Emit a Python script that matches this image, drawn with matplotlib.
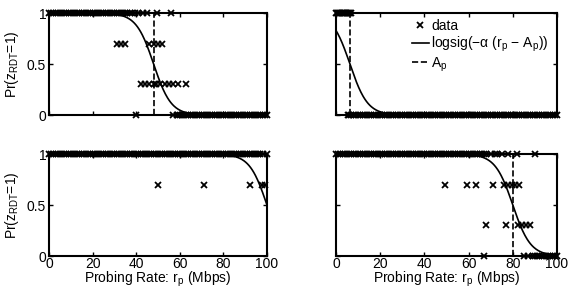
import numpy as np
import matplotlib
matplotlib.use("Agg")
import matplotlib.pyplot as plt

plt.rcParams["font.family"] = ["Liberation Sans", "DejaVu Sans"]
plt.rcParams["mathtext.fontset"] = "custom"
plt.rcParams["mathtext.rm"] = "Liberation Sans"
plt.rcParams["mathtext.it"] = "Liberation Sans"
plt.rcParams["font.size"] = 10

# probing rates (Mbps) of the observations, grouped by observed Pr value
# top-left
tl_x1 = [0, 1, 2, 3, 4, 5, 6, 7, 8, 9, 10, 11, 12, 13, 14, 15, 16, 17, 18, 19,
         20, 21, 22, 23, 24, 25, 26, 27, 28, 29, 30, 31, 32, 33, 34, 35, 36, 37,
         38, 39.5, 41, 43, 45, 49.5, 56]
tl_x07 = [31, 33, 35, 46, 48, 50, 52]
tl_x03 = [42, 44, 46, 48, 49, 51, 53, 55, 57, 59, 63]
tl_x0 = [40, 57, 58.5, 59, 60, 61, 62, 63, 64, 65, 66, 67, 68, 69, 70, 71, 72,
         73, 74, 75, 76, 77, 78, 79, 80, 81, 82, 83, 84, 85, 86, 87, 88, 89, 90,
         91, 92, 93, 94, 95, 96, 97, 98, 99, 100]
# top-right
tr_x1 = [0, 0.5, 1, 1.5, 2, 2.5, 3, 3.5, 4, 4.5, 5, 5.5, 6, 6.5, 7]
tr_x07 = []
tr_x03 = []
tr_x0 = [5.5, 6, 7, 8, 9, 10, 11, 12, 13, 14, 15, 16, 17, 18, 19, 20, 21, 22,
         23, 24, 25, 26, 27, 28, 29, 30, 31, 32, 33, 34, 35, 36, 37, 38, 39, 40,
         41, 42, 43, 44, 45, 46, 47, 48, 49, 50, 51, 52, 53, 54, 55, 56, 57, 58,
         59, 60, 61, 62, 63, 64, 65, 66, 67, 68, 69, 70, 71, 72, 73, 74, 75, 76,
         77, 78, 79, 80, 81, 82, 83, 84, 85, 86, 87, 88, 89, 90, 91, 92, 93, 94,
         95, 96, 97, 98, 99, 100]
# bottom-left
bl_x1 = [0, 1, 2, 3, 4, 5, 6, 7, 8, 9, 10, 11, 12, 13, 14, 15, 16, 17, 18, 19,
         20, 21, 22, 23, 24, 25, 26, 27, 28, 29, 30, 31, 32, 33, 34, 35, 36, 37,
         38, 39, 40, 41, 42, 43, 44, 45, 46, 47, 48, 49, 50, 51, 52, 53, 54, 55,
         56, 57, 58, 59, 60, 61, 62, 63, 64, 65, 66, 67, 68, 69, 70, 71, 72, 73,
         74, 75, 76, 77, 78, 79, 80, 81, 82, 83, 84, 85, 86, 87, 88, 89, 90, 91,
         92, 93, 94, 95, 96, 97, 98, 100]
bl_x07 = [50, 71, 92, 97.5, 99]
bl_x03 = []
bl_x0 = []
# bottom-right
br_x1 = [0, 1, 2, 3, 4, 5, 6, 7, 8, 9, 10, 11, 12, 13, 14, 15, 16, 17, 18, 19,
         20, 21, 22, 23, 24, 25, 26, 27, 28, 29, 30, 31, 32, 33, 34, 35, 36, 37,
         38, 39, 40, 41, 42, 43, 44, 45, 46, 47, 48, 49, 50, 51, 52, 53, 54, 55,
         56, 57, 58, 59, 60, 61, 62, 63, 64, 65, 66, 67, 68, 70, 72, 73, 75, 78,
         82, 90]
br_x07 = [49.5, 59.5, 63.5, 71, 76, 78, 79.5, 81, 83]
br_x03 = [68, 77, 82.5, 84, 86, 88]
br_x0 = [67, 85, 87, 89, 90, 91, 92, 93, 94, 95, 96, 97, 98, 99, 100]

# fitted logistic parameters
alpha = [0.25, 0.25, 0.25, 0.25]
a_p = [48, 6.3, 100, 80]

panels = [
    (tl_x1, tl_x07, tl_x03, tl_x0),
    (tr_x1, tr_x07, tr_x03, tr_x0),
    (bl_x1, bl_x07, bl_x03, bl_x0),
    (br_x1, br_x07, br_x03, br_x0),
]
levels = [1, 0.7, 0.3, 0]

positions = [
    [0.0843, 0.6034, 0.3752, 0.3517],
    [0.5783, 0.6034, 0.3804, 0.3517],
    [0.0843, 0.1172, 0.3752, 0.3517],
    [0.5783, 0.1172, 0.3804, 0.3517],
]

fig = plt.figure(figsize=(5.81, 2.90), dpi=100)
rp = np.linspace(0, 100, 400)

for i, (groups, pos) in enumerate(zip(panels, positions)):
    ax = fig.add_axes(pos)
    first = True
    for xs, lev in zip(groups, levels):
        if not xs:
            continue
        ax.plot(xs, [lev] * len(xs), "x", color="black", ms=5, mew=1.3,
                clip_on=False, label="data" if first else None, zorder=3)
        first = False
    curve = 1.0 / (1.0 + np.exp(alpha[i] * (rp - a_p[i])))
    ax.plot(rp, curve, "-", color="black", lw=1.2,
            label=r"logsig($-\alpha$ (r$_p$ $-$ A$_p$))")
    ax.plot([a_p[i], a_p[i]], [0, 1], "--", color="black", lw=1.2,
            label="A$_p$")
    ax.set_xlim(0, 100)
    ax.set_ylim(0, 1)
    ax.set_xticks([0, 20, 40, 60, 80, 100])
    ax.set_yticks([0, 0.5, 1])
    ax.set_yticklabels(["0", "0.5", "1"])
    ax.tick_params(direction="in", top=True, right=True, length=3, width=1,
                   pad=2, labelsize=10)
    ax.tick_params(axis="x", pad=1)
    for s in ax.spines.values():
        s.set_linewidth(1.5)
    if i < 2:
        ax.set_xticklabels([])
    else:
        ax.set_xlabel("Probing Rate: r$_p$ (Mbps)", labelpad=-1)
    if i % 2 == 1:
        ax.set_yticklabels([])
    else:
        ax.set_ylabel("Pr(z$_{RDT}$=1)", labelpad=4)
    if i == 1:
        ax.legend(loc="upper right", frameon=False, handlelength=1.25,
                  handletextpad=0.15, labelspacing=0.1, borderaxespad=0.2,
                  fontsize=10, bbox_to_anchor=(1.0, 1.02))

fig.savefig("out.png", dpi=100)
